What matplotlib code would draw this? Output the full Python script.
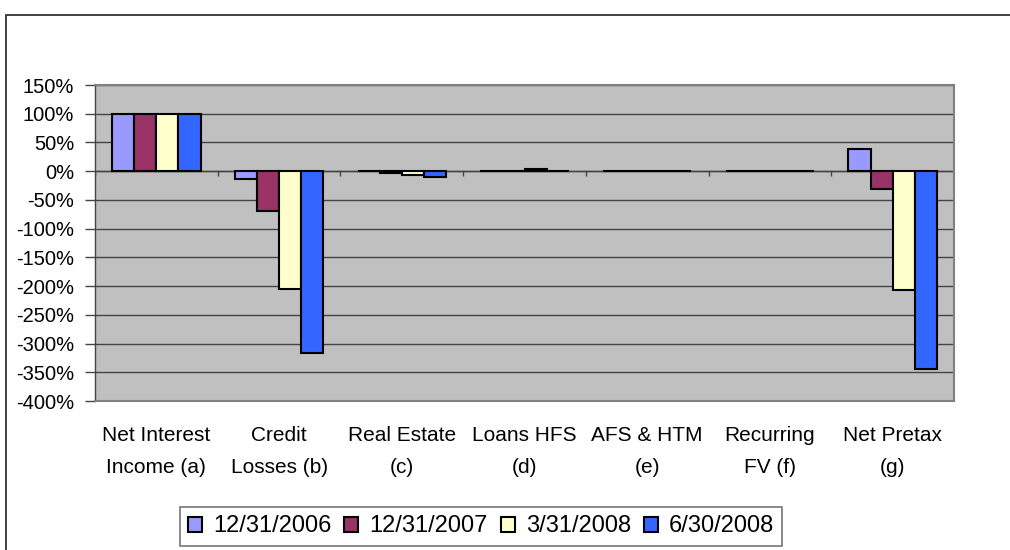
import matplotlib
matplotlib.use("Agg")
import matplotlib.pyplot as plt
from matplotlib.patches import Rectangle
from matplotlib.ticker import FuncFormatter
import numpy as np

plt.rcParams['font.family'] = ['Liberation Sans', 'DejaVu Sans']

categories = ["Net Interest\nIncome (a)", "Credit\nLosses (b)", "Real Estate\n(c)",
              "Loans HFS\n(d)", "AFS & HTM\n(e)", "Recurring\nFV (f)", "Net Pretax\n(g)"]
series_names = ["12/31/2006", "12/31/2007", "3/31/2008", "6/30/2008"]
values_2006q4 = [100, -14, 0, 0, 0, 0, 38]
values_2007q4 = [100, -69, -3, 0, 0, 0, -31]
values_2008q1 = [100, -205, -6, 3, 0, 0, -206]
values_2008q2 = [100, -317, -10, 0, 0, 0, -344]
series_colors = ["#9999FF", "#993366", "#FFFFCC", "#3366FF"]
y_ticks = list(range(-400, 151, 50))

W, H = 1010, 550
fig = plt.figure(figsize=(W / 100, H / 100), dpi=100)
fig.patch.set_facecolor("white")

# outer chart frame
fig.patches.append(Rectangle((6 / W, -0.1), 1.2, 1 - 15 / H + 0.1, transform=fig.transFigure,
                             fill=False, edgecolor="#333333", linewidth=1.3, zorder=0))

ax = fig.add_axes([95 / W, 1 - 401 / H, (954 - 95) / W, (401 - 85) / H])
ax.set_facecolor("#C0C0C0")

all_series = [values_2006q4, values_2007q4, values_2008q1, values_2008q2]
x = np.arange(len(categories))
bw = 0.18
for i, (vals, name, col) in enumerate(zip(all_series, series_names, series_colors)):
    ax.bar(x + (i - 1.5) * bw, vals, width=bw, color=col, edgecolor="black",
           linewidth=1.5, label=name, zorder=3)

ax.set_xlim(-0.5, len(categories) - 0.5)
ax.set_ylim(-400, 150)
ax.set_yticks(y_ticks)
ax.yaxis.set_major_formatter(FuncFormatter(lambda v, p: f"{int(v)}%"))
ax.grid(axis="y", color="#444444", linewidth=1, zorder=1)
ax.axhline(0, color="#444444", linewidth=1, zorder=2)
# category tick marks hanging from the zero line
ax.vlines(np.arange(-0.5, len(categories)), -8, 0, color="#444444", linewidth=1, zorder=2)

ax.set_xticks(x)
ax.set_xticklabels(categories, fontsize=15, linespacing=1.85)
ax.tick_params(axis="x", length=0, pad=18)
ax.tick_params(axis="y", labelsize=14.5, length=7, width=1, color="#444444", pad=8)

for s in ax.spines.values():
    s.set_color("#808080")
    s.set_linewidth(1.5)
ax.spines["left"].set_color("#444444")
ax.spines["left"].set_linewidth(1)

leg = fig.legend(loc="center", bbox_to_anchor=(481 / W, 1 - 526.5 / H), ncol=4,
                 fontsize=17, frameon=True, fancybox=False, edgecolor="#555555",
                 handlelength=0.59, handleheight=0.59, handletextpad=0.47,
                 columnspacing=0.55, borderpad=0.35, borderaxespad=0)
leg.get_frame().set_linewidth(1.2)
for h in leg.legend_handles:
    h.set_linewidth(1.5)

fig.savefig("out.png", dpi=100)
